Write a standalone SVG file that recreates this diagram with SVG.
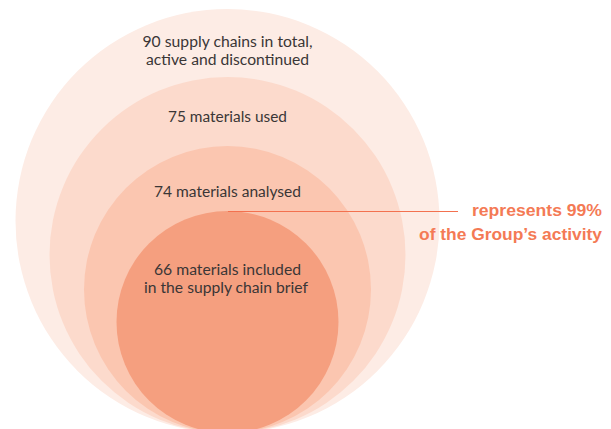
<svg xmlns="http://www.w3.org/2000/svg" width="611" height="429" viewBox="0 0 611 429">
<style>
.lbl{font-family:Lato,"Open Sans","Liberation Sans",sans-serif;font-size:14.5px;fill:#3a3636;text-anchor:middle}
.call{font-family:"Liberation Sans",Arial,sans-serif;font-weight:bold;font-size:17px;fill:#f47a55;text-anchor:end}
</style>
<rect width="611" height="429" fill="#ffffff"/>
<g id="node-supply-chains">
<circle cx="227.5" cy="221" r="212" fill="#fdece5"/>
<text class="lbl" x="227.5" y="47" textLength="170" lengthAdjust="spacingAndGlyphs">90 supply chains in total,</text>
<text class="lbl" x="227.5" y="64.5" textLength="163" lengthAdjust="spacingAndGlyphs">active and discontinued</text>
</g>
<g id="node-materials-used">
<circle cx="227.5" cy="255" r="178" fill="#fcdacc"/>
<text class="lbl" x="227.5" y="122" textLength="119" lengthAdjust="spacingAndGlyphs">75 materials used</text>
</g>
<g id="node-materials-analysed">
<circle cx="227.5" cy="289.5" r="143.5" fill="#fbc6b0"/>
<text class="lbl" x="227.5" y="197" textLength="147" lengthAdjust="spacingAndGlyphs">74 materials analysed</text>
</g>
<g id="node-materials-included">
<circle cx="227.5" cy="322" r="111" fill="#f59f7f"/>
<text class="lbl" x="227.5" y="274.5" textLength="147" lengthAdjust="spacingAndGlyphs">66 materials included</text>
<text class="lbl" x="226" y="292.5" textLength="164" lengthAdjust="spacingAndGlyphs">in the supply chain brief</text>
</g>
<g id="connectors">
<line x1="228" y1="211.5" x2="458" y2="211.5" stroke="#f3714f" stroke-width="1.2"/>
</g>
<g id="node-callout">
<text class="call" x="602" y="216" textLength="130" lengthAdjust="spacingAndGlyphs">represents 99%</text>
<text class="call" x="602" y="240" textLength="183" lengthAdjust="spacingAndGlyphs">of the Group’s activity</text>
</g>
</svg>
